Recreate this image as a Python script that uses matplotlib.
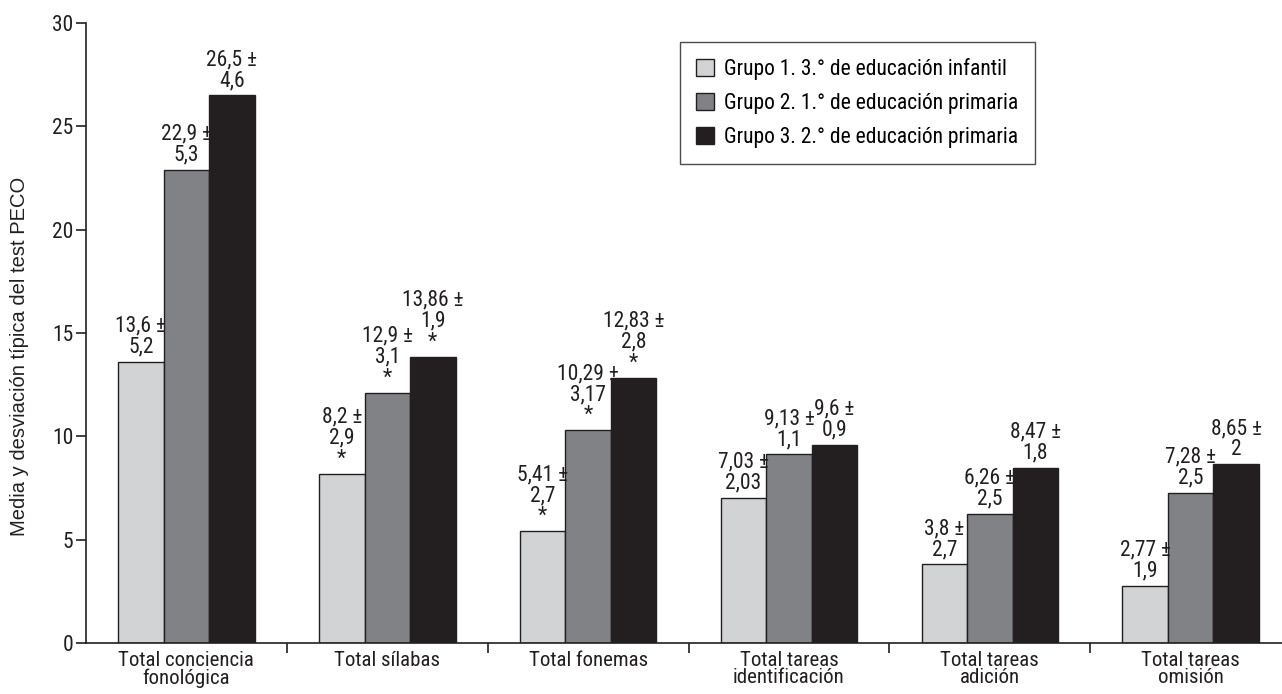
import matplotlib
matplotlib.use("Agg")
import matplotlib.pyplot as plt
import numpy as np
from matplotlib.patches import Patch
from matplotlib.ticker import FixedLocator

plt.rcParams['font.family'] = ['Roboto Condensed', 'Archivo Narrow', 'Liberation Sans', 'DejaVu Sans']

categories = ["Total conciencia\nfonológica", "Total sílabas", "Total fonemas",
              "Total tareas\nidentificación", "Total tareas\nadición", "Total tareas\nomisión"]
series_names = ["Grupo 1. 3.° de educación infantil",
                "Grupo 2. 1.° de educación primaria",
                "Grupo 3. 2.° de educación primaria"]
grupo1 = [13.6, 8.2, 5.41, 7.03, 3.8, 2.77]
grupo2 = [22.9, 12.1, 10.29, 9.13, 6.26, 7.28]
grupo3 = [26.5, 13.86, 12.83, 9.6, 8.47, 8.65]
labels1 = ["13,6 ±\n5,2", "8,2 ±\n2,9\n*", "5,41 ±\n2,7\n*", "7,03 ±\n2,03", "3,8 ±\n2,7", "2,77 ±\n1,9"]
labels2 = ["22,9 ±\n5,3", "12,9 ±\n3,1\n*", "10,29 ±\n3,17\n*", "9,13 ±\n1,1", "6,26 ±\n2,5", "7,28 ±\n2,5"]
labels3 = ["26,5 ±\n4,6", "13,86 ±\n1,9\n*", "12,83 ±\n2,8\n*", "9,6 ±\n0,9", "8,47 ±\n1,8", "8,65 ±\n2"]
y_ticks = [0, 5, 10, 15, 20, 25, 30]
y_label = "Media y desviación típica del test PECO"

colors = ["#d1d3d4", "#808285", "#231f20"]
edge = "#231f20"

fig = plt.figure(figsize=(12.82, 6.94), dpi=100)
ax = fig.add_axes([86/1282, 51/694, (1282-86)/1282, (643-23)/694])

x = np.arange(len(categories))
w = 0.2266
for i, (vals, labs) in enumerate(zip([grupo1, grupo2, grupo3], [labels1, labels2, labels3])):
    xs = x + (i - 1) * w
    ax.bar(xs, vals, width=w, color=colors[i], edgecolor=edge, linewidth=1.0,
           label=series_names[i], zorder=2)
    for xi, v, lab in zip(xs, vals, labs):
        ax.annotate(lab, (xi, v), xytext=(0, 3), textcoords="offset points",
                    ha="center", va="bottom", fontsize=15.5, linespacing=1.0,
                    color="#231f20", zorder=3)

ax.set_xlim(-0.5, 5.455)
ax.set_ylim(0, 30)
ax.set_yticks(y_ticks)
ax.set_yticklabels([str(t) for t in y_ticks], fontsize=15.5, color="#231f20")
ax.set_xticks(x)
ax.set_xticklabels(categories, fontsize=15, linespacing=0.86, color="#231f20")
ax.xaxis.set_minor_locator(FixedLocator(np.arange(0.5, 5.0, 1.0)))
ax.tick_params(axis='x', which='major', length=0, pad=6)
ax.tick_params(axis='x', which='minor', length=7, width=1.2, direction='out', color=edge)
ax.tick_params(axis='y', length=7, width=1.2, direction='out', color=edge, pad=2)

for s in ['top', 'right']:
    ax.spines[s].set_visible(False)
for s in ['left', 'bottom']:
    ax.spines[s].set_linewidth(1.2)
    ax.spines[s].set_color(edge)

ax.set_ylabel(y_label, fontsize=14.5, color="#231f20",
              family=['Liberation Sans', 'DejaVu Sans'])
ax.yaxis.set_label_coords(-0.0477, 0.463)

handles = [Patch(facecolor=colors[i], edgecolor=edge, linewidth=1.0) for i in range(3)]
leg = ax.legend(handles, series_names, loc='upper left',
                bbox_to_anchor=((680-86)/(1282-86), (643-42)/(643-23)),
                fontsize=15.5, frameon=True, fancybox=False, edgecolor=edge,
                handlelength=0.85, handleheight=0.85, handletextpad=0.45,
                labelspacing=0.6, borderpad=0.75, borderaxespad=0)
leg.get_frame().set_linewidth(1.0)

fig.savefig("out.png", dpi=100)
